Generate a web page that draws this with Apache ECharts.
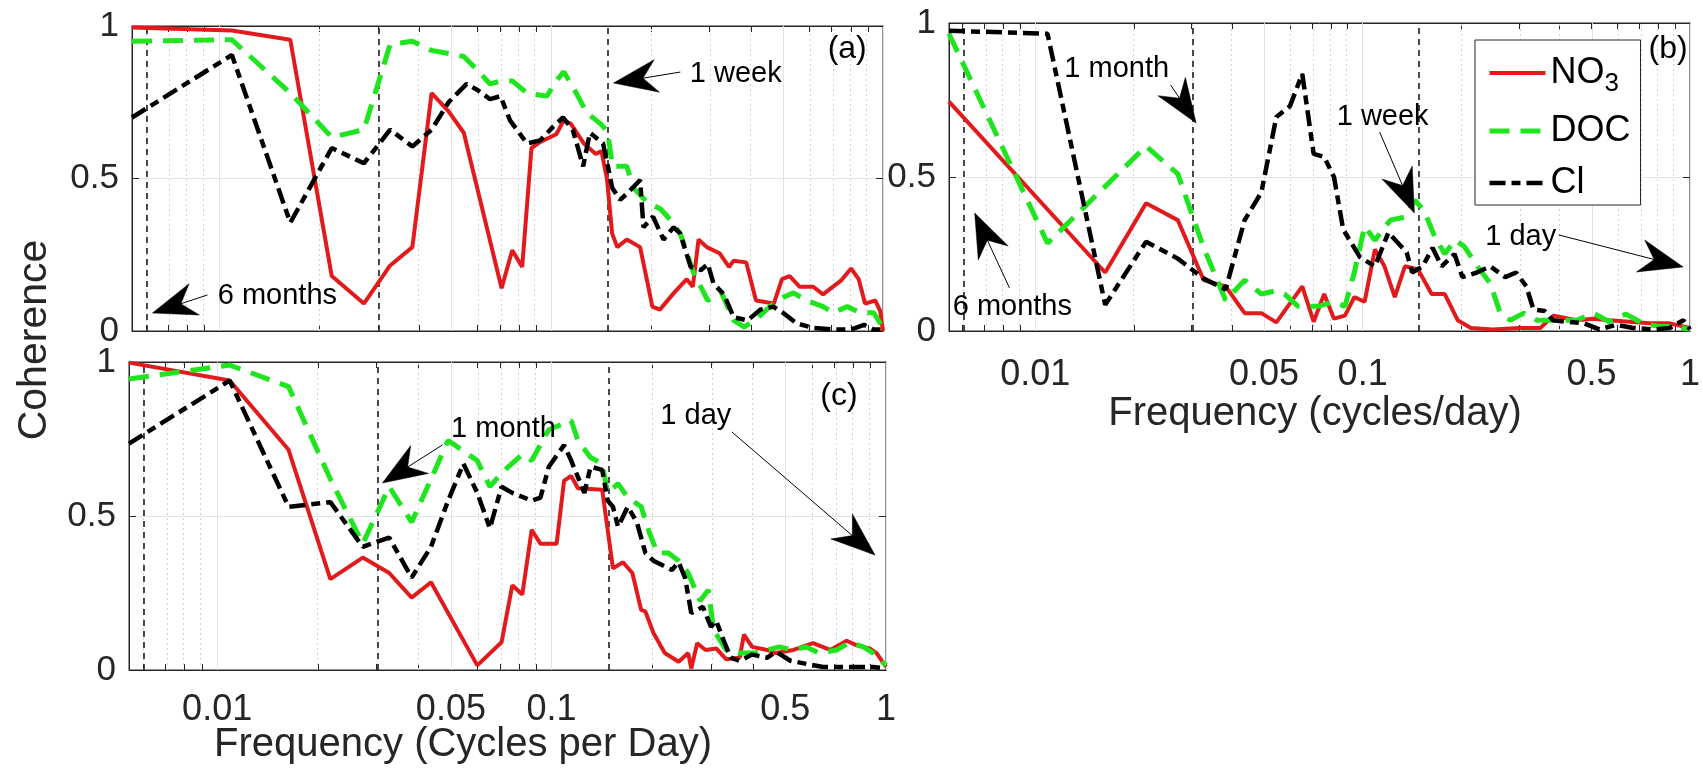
<!DOCTYPE html>
<html>
<head>
<meta charset="utf-8">
<script src="https://cdn.jsdelivr.net/npm/echarts@6/dist/echarts.min.js"></script>
<style>
  html, body { margin: 0; padding: 0; background: #fff; }
  #chart { width: 1703px; height: 771px; }
</style>
</head>
<body>
<div id="chart"></div>
<script>
// Coherence spectra: [frequency (cycles/day), coherence]
const no3A = [[0.00545,0.995],[0.0109,0.985],[0.01635,0.955],[0.0218,0.18],[0.02725,0.09],[0.0327,0.215],[0.03815,0.275],[0.0436,0.78],[0.04905,0.72],[0.0545,0.65],[0.07085,0.14],[0.0763,0.265],[0.08175,0.21],[0.0872,0.60],[0.09265,0.62],[0.1036,0.645],[0.109,0.69],[0.1145,0.68],[0.1254,0.615],[0.1363,0.58],[0.1417,0.59],[0.1472,0.50],[0.1526,0.32],[0.1581,0.275],[0.169,0.30],[0.1853,0.275],[0.1962,0.145],[0.2017,0.08],[0.2126,0.07],[0.2344,0.125],[0.2562,0.17],[0.2671,0.145],[0.278,0.30],[0.2943,0.275],[0.3216,0.255],[0.3434,0.21],[0.3543,0.23],[0.387,0.225],[0.4142,0.10],[0.4687,0.09],[0.496,0.17],[0.5232,0.18],[0.5614,0.145],[0.6159,0.145],[0.6595,0.12],[0.7467,0.165],[0.8012,0.205],[0.8448,0.17],[0.8829,0.09],[0.9483,0.10],[0.981,0.065],[1.0,0.0]];
const docA = [[0.00545,0.95],[0.0109,0.955],[0.01635,0.78],[0.0218,0.635],[0.02725,0.66],[0.0327,0.94],[0.03815,0.95],[0.0436,0.92],[0.04905,0.91],[0.0545,0.90],[0.05995,0.855],[0.0654,0.81],[0.07085,0.82],[0.0763,0.82],[0.0845,0.78],[0.0970,0.77],[0.1036,0.82],[0.109,0.85],[0.1163,0.80],[0.1281,0.715],[0.1406,0.68],[0.1477,0.655],[0.1531,0.54],[0.169,0.54],[0.1766,0.47],[0.1951,0.42],[0.2136,0.40],[0.2284,0.365],[0.2447,0.32],[0.2687,0.19],[0.2965,0.10],[0.3259,0.125],[0.3548,0.035],[0.3821,0.013],[0.4158,0.04],[0.4562,0.08],[0.4992,0.11],[0.5368,0.125],[0.5886,0.10],[0.6595,0.08],[0.7085,0.06],[0.7794,0.08],[0.8557,0.06],[0.9374,0.06],[1.0,0.01]];
const clA = [[0.00545,0.70],[0.0109,0.905],[0.01635,0.355],[0.0218,0.60],[0.02725,0.55],[0.0327,0.66],[0.03815,0.605],[0.0436,0.66],[0.04905,0.75],[0.0556,0.81],[0.05995,0.79],[0.0654,0.76],[0.0703,0.77],[0.0752,0.69],[0.0845,0.615],[0.09265,0.625],[0.1014,0.67],[0.1085,0.70],[0.1161,0.66],[0.1248,0.54],[0.1308,0.65],[0.1433,0.615],[0.1482,0.54],[0.1526,0.47],[0.1613,0.43],[0.169,0.45],[0.1853,0.495],[0.1897,0.34],[0.2027,0.375],[0.218,0.30],[0.2338,0.34],[0.2447,0.32],[0.2632,0.21],[0.2829,0.20],[0.2965,0.22],[0.3085,0.155],[0.3314,0.12],[0.3548,0.045],[0.3908,0.035],[0.4267,0.07],[0.4671,0.08],[0.4992,0.06],[0.5494,0.025],[0.6159,0.01],[0.7085,0.005],[0.8012,0.005],[0.8775,0.02],[0.9374,0.005],[1.0,0.005]];

const no3B = [[0.00545,0.745],[0.01635,0.19],[0.0218,0.415],[0.02725,0.36],[0.0327,0.165],[0.03815,0.145],[0.0436,0.058],[0.04905,0.058],[0.0545,0.028],[0.0654,0.145],[0.07085,0.03],[0.0763,0.12],[0.08175,0.04],[0.0883,0.05],[0.0943,0.11],[0.1014,0.095],[0.109,0.265],[0.1166,0.21],[0.1254,0.11],[0.1346,0.21],[0.1477,0.20],[0.1624,0.12],[0.1782,0.12],[0.1951,0.035],[0.2142,0.01],[0.25,0.005],[0.30,0.01],[0.3488,0.01],[0.3831,0.05],[0.4496,0.035],[0.5069,0.04],[0.5668,0.035],[0.654,0.03],[0.7521,0.025],[0.8611,0.025],[1.0,0.01]];
const docB = [[0.00545,0.965],[0.0109,0.285],[0.0218,0.60],[0.02725,0.51],[0.0327,0.27],[0.03815,0.10],[0.0436,0.165],[0.04905,0.12],[0.05395,0.13],[0.05777,0.12],[0.0635,0.08],[0.0730,0.08],[0.0818,0.095],[0.0883,0.08],[0.0943,0.19],[0.1014,0.34],[0.109,0.295],[0.1215,0.36],[0.1346,0.37],[0.1444,0.425],[0.1542,0.39],[0.1662,0.305],[0.1782,0.25],[0.1913,0.295],[0.2044,0.275],[0.224,0.21],[0.2453,0.155],[0.2632,0.058],[0.2823,0.035],[0.3107,0.058],[0.3406,0.035],[0.3831,0.035],[0.4496,0.035],[0.5069,0.058],[0.5668,0.03],[0.6377,0.055],[0.7167,0.025],[0.8012,0.015],[0.8993,0.015],[1.0,0.005]];
const clB = [[0.00545,0.975],[0.0109,0.965],[0.01635,0.085],[0.0218,0.29],[0.02725,0.235],[0.0327,0.17],[0.03815,0.135],[0.0436,0.36],[0.04905,0.45],[0.0545,0.695],[0.05995,0.73],[0.0654,0.835],[0.07085,0.575],[0.0763,0.565],[0.08175,0.50],[0.0872,0.33],[0.0981,0.24],[0.109,0.21],[0.1199,0.32],[0.1363,0.255],[0.1417,0.19],[0.1526,0.21],[0.1635,0.27],[0.1744,0.21],[0.1908,0.25],[0.2017,0.175],[0.2235,0.19],[0.2453,0.21],[0.2725,0.175],[0.2943,0.19],[0.3161,0.145],[0.3325,0.07],[0.3597,0.065],[0.3815,0.035],[0.4197,0.03],[0.4742,0.025],[0.5287,0.005],[0.5941,0.02],[0.6704,0.01],[0.7739,0.005],[0.8666,0.01],[0.9538,0.035],[1.0,0.005]];

const no3C = [[0.00545,0.998],[0.0109,0.94],[0.01635,0.715],[0.0218,0.295],[0.02725,0.365],[0.0327,0.315],[0.03815,0.235],[0.0436,0.285],[0.05995,0.015],[0.07085,0.09],[0.0763,0.275],[0.08175,0.245],[0.0872,0.455],[0.09265,0.41],[0.10355,0.41],[0.109,0.615],[0.11445,0.63],[0.1199,0.59],[0.1417,0.585],[0.1526,0.33],[0.1635,0.35],[0.1744,0.315],[0.1853,0.195],[0.19075,0.19],[0.20165,0.12],[0.218,0.055],[0.2398,0.027],[0.25615,0.055],[0.2616,0.005],[0.2725,0.087],[0.28885,0.065],[0.31065,0.07],[0.33245,0.035],[0.36515,0.04],[0.37605,0.115],[0.39785,0.075],[0.44145,0.065],[0.4687,0.055],[0.52865,0.065],[0.60495,0.087],[0.68125,0.065],[0.763,0.095],[0.8175,0.08],[0.8938,0.07],[0.9374,0.055],[1.0,0.01]];
const docC = [[0.00545,0.945],[0.0109,0.99],[0.01635,0.92],[0.0218,0.62],[0.02725,0.41],[0.0327,0.595],[0.03815,0.48],[0.0436,0.62],[0.04905,0.745],[0.05995,0.68],[0.0654,0.595],[0.07085,0.64],[0.08175,0.70],[0.0872,0.68],[0.0981,0.78],[0.11445,0.81],[0.1199,0.745],[0.1308,0.69],[0.1417,0.67],[0.14715,0.575],[0.15805,0.605],[0.16895,0.56],[0.1853,0.53],[0.1962,0.445],[0.2071,0.38],[0.22345,0.38],[0.2398,0.355],[0.25615,0.315],[0.27795,0.225],[0.2943,0.26],[0.3052,0.13],[0.33245,0.065],[0.36515,0.055],[0.4033,0.055],[0.44145,0.065],[0.4796,0.075],[0.52865,0.065],[0.5777,0.075],[0.6322,0.055],[0.71395,0.065],[0.77935,0.09],[0.85565,0.075],[0.9156,0.055],[1.0,0.015]];
const clC = [[0.00545,0.735],[0.0109,0.94],[0.01635,0.53],[0.0218,0.545],[0.02725,0.40],[0.0327,0.43],[0.03815,0.30],[0.0436,0.40],[0.04905,0.55],[0.0545,0.67],[0.05995,0.575],[0.0654,0.46],[0.07085,0.595],[0.0763,0.575],[0.0872,0.55],[0.09265,0.56],[0.0981,0.66],[0.109,0.73],[0.11445,0.68],[0.12535,0.575],[0.1308,0.66],[0.1417,0.65],[0.14715,0.55],[0.1526,0.53],[0.15805,0.465],[0.16895,0.53],[0.17985,0.48],[0.19075,0.38],[0.20165,0.355],[0.2289,0.325],[0.2398,0.35],[0.2507,0.30],[0.2616,0.185],[0.2834,0.205],[0.29975,0.14],[0.31065,0.16],[0.327,0.095],[0.34335,0.04],[0.36515,0.03],[0.39785,0.05],[0.44145,0.04],[0.4687,0.06],[0.51775,0.03],[0.5777,0.02],[0.64855,0.01],[0.7303,0.01],[0.8175,0.01],[0.9156,0.01],[1.0,0.005]];

// Periods marked with vertical dashed lines (6 months, 1 month, 1 week), cycles/day
const periodFreqs = [0.006, 0.0305, 0.147];

// Axis ticks
const xTickValues = [0.01, 0.05, 0.1, 0.5, 1];
const xTickLabels = ['0.01', '0.05', '0.1', '0.5', '1'];
const yTickValues = [0, 0.5, 1];
const yTickLabels = ['0', '0.5', '1'];
const X_MIN = 0.00545;

// Arrow annotations per panel: label position, arrow tail and tip (frequency, coherence)
const notes = [
  { panel: 0, text: '6 months', at: [0.01495, 0.115], tail: [0.0092, 0.118], tip: [0.00628, 0.059] },
  { panel: 0, text: '1 week',   at: [0.360, 0.843],   tail: [0.245, 0.849],  tip: [0.154, 0.813] },
  { panel: 1, text: '1 month',  at: [0.01773, 0.851], tail: [0.0259, 0.799], tip: [0.0310, 0.675] },
  { panel: 1, text: '6 months', at: [0.00851, 0.078], tail: [0.00834, 0.140], tip: [0.00653, 0.383] },
  { panel: 1, text: '1 week',   at: [0.1151, 0.695],  tail: [0.1127, 0.646], tip: [0.1439, 0.383] },
  { panel: 1, text: '1 day',    at: [0.304, 0.305],   tail: [0.397, 0.312],  tip: [0.953, 0.208] },
  { panel: 2, text: '1 month',  at: [0.0718, 0.782],  tail: [0.0472, 0.731], tip: [0.0312, 0.607] },
  { panel: 2, text: '1 day',    at: [0.270, 0.825],   tail: [0.346, 0.773],  tip: [0.927, 0.373] }
];
const panelTags = [
  { panel: 0, text: '(a)', at: [0.780, 0.925] },
  { panel: 1, text: '(b)', at: [0.857, 0.916] },
  { panel: 2, text: '(c)', at: [0.723, 0.890] }
];

const FONT = '"Liberation Sans", Arial, Helvetica, sans-serif';
const AXIS_COLOR = '#262626';
const lg = Math.log10;

// minor tick positions of a log axis: k * 10^n
const minorTicks = [];
for (let e = -3; e <= 0; e++) {
  for (let k = 1; k <= 9; k++) {
    const v = k * Math.pow(10, e);
    if (v >= X_MIN && v <= 1.0000001) minorTicks.push(v);
  }
}

const grids = [
  { left: 132, top: 26, width: 751, height: 305 },
  { left: 949, top: 23, width: 746, height: 308 },
  { left: 129, top: 362, width: 757, height: 308 }
];
const showXLabels = [false, true, true];
const xLabelMargin = [22, 26, 22];

function xLabel(v) {
  const i = xTickValues.findIndex(t => Math.abs(lg(t) - v) < 1e-6);
  return i >= 0 ? xTickLabels[i] : '';
}
function yLabel(v) {
  const i = yTickValues.findIndex(t => Math.abs(t - v) < 1e-6);
  return i >= 0 ? yTickLabels[i] : '';
}

const xAxes = [], yAxes = [], series = [];
grids.forEach((g, i) => {
  xAxes[i] = {
    type: 'value', gridIndex: i, position: 'bottom', min: lg(X_MIN), max: 0,
    axisLine: { show: true, onZero: false, lineStyle: { color: AXIS_COLOR, width: 1 } },
    axisTick: { show: true, inside: true, length: 6, customValues: minorTicks.map(lg), lineStyle: { color: AXIS_COLOR } },
    axisLabel: { show: showXLabels[i], customValues: xTickValues.map(lg), formatter: xLabel,
      margin: xLabelMargin[i], fontSize: 36, fontFamily: FONT, color: AXIS_COLOR },
    splitLine: { show: false }
  };
  xAxes[3 + i] = {
    type: 'value', gridIndex: i, position: 'top', min: lg(X_MIN), max: 0,
    axisLine: { show: true, onZero: false, lineStyle: { color: AXIS_COLOR, width: 1 } },
    axisTick: { show: true, inside: true, length: 6, customValues: minorTicks.map(lg), lineStyle: { color: AXIS_COLOR } },
    axisLabel: { show: false }, splitLine: { show: false }
  };
  yAxes[i] = {
    type: 'value', gridIndex: i, position: 'left', min: 0, max: 1, interval: 0.5,
    axisLine: { show: true, onZero: false, lineStyle: { color: AXIS_COLOR, width: 1 } },
    axisTick: { show: true, inside: true, length: 7, lineStyle: { color: AXIS_COLOR } },
    axisLabel: { formatter: yLabel, margin: 13, fontSize: 35, fontFamily: FONT, color: AXIS_COLOR },
    splitLine: { show: true, lineStyle: { color: '#e4e4e4', width: 1 } }
  };
  yAxes[3 + i] = {
    type: 'value', gridIndex: i, position: 'right', min: 0, max: 1, interval: 0.5,
    axisLine: { show: true, onZero: false, lineStyle: { color: AXIS_COLOR, width: 1 } },
    axisTick: { show: true, inside: true, length: 7, lineStyle: { color: AXIS_COLOR } },
    axisLabel: { show: false }, splitLine: { show: false }
  };

  // log-scale grid lines: labelled ticks solid, the rest dotted
  const gridLines = minorTicks.map(v => {
    const major = xTickValues.some(t => Math.abs(t - v) < 1e-9);
    return { xAxis: lg(v), lineStyle: major
      ? { color: '#e2e2e2', width: 1, type: 'solid' }
      : { color: '#d2d2d2', width: 1, type: [2, 3] } };
  });
  series.push({
    type: 'line', xAxisIndex: i, yAxisIndex: i, data: [], silent: true, z: 1,
    markLine: { silent: true, symbol: ['none', 'none'], label: { show: false }, animation: false, z: 1,
      data: gridLines }
  });
  series.push({
    type: 'line', xAxisIndex: i, yAxisIndex: i, data: [], silent: true, z: 2,
    markLine: { silent: true, symbol: ['none', 'none'], label: { show: false }, animation: false, z: 2,
      data: periodFreqs.map(f => ({ xAxis: lg(f) })),
      lineStyle: { color: '#1f1f1f', width: 1.6, type: [6, 5] } }
  });
});

const panelData = [[no3A, docA, clA], [no3B, docB, clB], [no3C, docC, clC]];
const styles = [
  { name: 'NO3', lineStyle: { color: '#e31a1c', width: 4, type: 'solid' } },
  { name: 'DOC', lineStyle: { color: '#1ee51e', width: 5, type: [20, 11] } },
  { name: 'Cl',  lineStyle: { color: '#000000', width: 4.5, type: [16, 6, 9, 6] } }
];
panelData.forEach((sets, i) => {
  sets.forEach((d, j) => {
    series.push({
      type: 'line', name: styles[j].name, xAxisIndex: i, yAxisIndex: i,
      data: d.map(([f, v]) => [lg(f), v]),
      symbol: 'none', z: 3 + j, lineStyle: styles[j].lineStyle,
      itemStyle: { color: styles[j].lineStyle.color }
    });
  });
});

const chart = echarts.init(document.getElementById('chart'), null, { renderer: 'canvas' });
chart.setOption({
  animation: false,
  backgroundColor: '#ffffff',
  grid: grids.map(g => Object.assign({ show: true, borderColor: AXIS_COLOR, borderWidth: 1, backgroundColor: 'transparent' }, g)),
  xAxis: xAxes,
  yAxis: yAxes,
  legend: {
    data: ['NO3', 'DOC', 'Cl'], orient: 'vertical', left: 1475, top: 40,
    padding: [15, 10, 4, 12], itemGap: 16, itemWidth: 56, itemHeight: 14,
    backgroundColor: '#ffffff', borderColor: AXIS_COLOR, borderWidth: 1,
    itemStyle: { opacity: 0 },
    lineStyle: { width: 'inherit' },
    formatter: n => (n === 'NO3' ? 'NO{sub|3}' : n),
    textStyle: { fontSize: 36, fontFamily: FONT, color: '#000',
      rich: { sub: { fontSize: 26, fontFamily: FONT, color: '#000', padding: [22, 0, 0, 0] } } }
  },
  series: series
});

// annotations in data space, drawn after layout
function toPx(panel, p) {
  return chart.convertToPixel({ gridIndex: panel }, [lg(p[0]), p[1]]);
}
const graphics = [];
const HEAD_L = 44, HEAD_W = 33;
notes.forEach(n => {
  const tip = toPx(n.panel, n.tip), tail = toPx(n.panel, n.tail), at = toPx(n.panel, n.at);
  const dx = tail[0] - tip[0], dy = tail[1] - tip[1];
  const len = Math.hypot(dx, dy) || 1;
  const ux = dx / len, uy = dy / len, nx = -uy, ny = ux;
  const b1 = [tip[0] + ux * HEAD_L + nx * HEAD_W / 2, tip[1] + uy * HEAD_L + ny * HEAD_W / 2];
  const b2 = [tip[0] + ux * HEAD_L - nx * HEAD_W / 2, tip[1] + uy * HEAD_L - ny * HEAD_W / 2];
  const notch = [tip[0] + ux * HEAD_L * 0.68, tip[1] + uy * HEAD_L * 0.68];
  graphics.push({ type: 'line', z: 20, shape: { x1: tail[0], y1: tail[1], x2: notch[0], y2: notch[1] },
    style: { stroke: '#000', lineWidth: 1 } });
  graphics.push({ type: 'polygon', z: 20, shape: { points: [tip, b1, notch, b2] },
    style: { fill: '#000', stroke: '#000', lineWidth: 0.5 } });
  graphics.push({ type: 'text', z: 21, x: at[0], y: at[1],
    style: { text: n.text, align: 'center', verticalAlign: 'middle', font: '29px ' + FONT, fill: '#000' } });
});
panelTags.forEach(t => {
  const at = toPx(t.panel, t.at);
  graphics.push({ type: 'text', z: 21, x: at[0], y: at[1],
    style: { text: t.text, align: 'center', verticalAlign: 'middle', font: '32px ' + FONT, fill: '#000' } });
});
// axis titles
graphics.push({ type: 'text', z: 21, x: 35, y: 340, rotation: Math.PI / 2,
  style: { text: 'Coherence', align: 'center', verticalAlign: 'middle', font: '41px ' + FONT, fill: AXIS_COLOR } });
graphics.push({ type: 'text', z: 21, x: 463, y: 745,
  style: { text: 'Frequency (Cycles per Day)', align: 'center', verticalAlign: 'middle', font: '40px ' + FONT, fill: AXIS_COLOR } });
graphics.push({ type: 'text', z: 21, x: 1315, y: 414,
  style: { text: 'Frequency (cycles/day)', align: 'center', verticalAlign: 'middle', font: '40px ' + FONT, fill: AXIS_COLOR } });
chart.setOption({ graphic: graphics });
</script>
</body>
</html>
